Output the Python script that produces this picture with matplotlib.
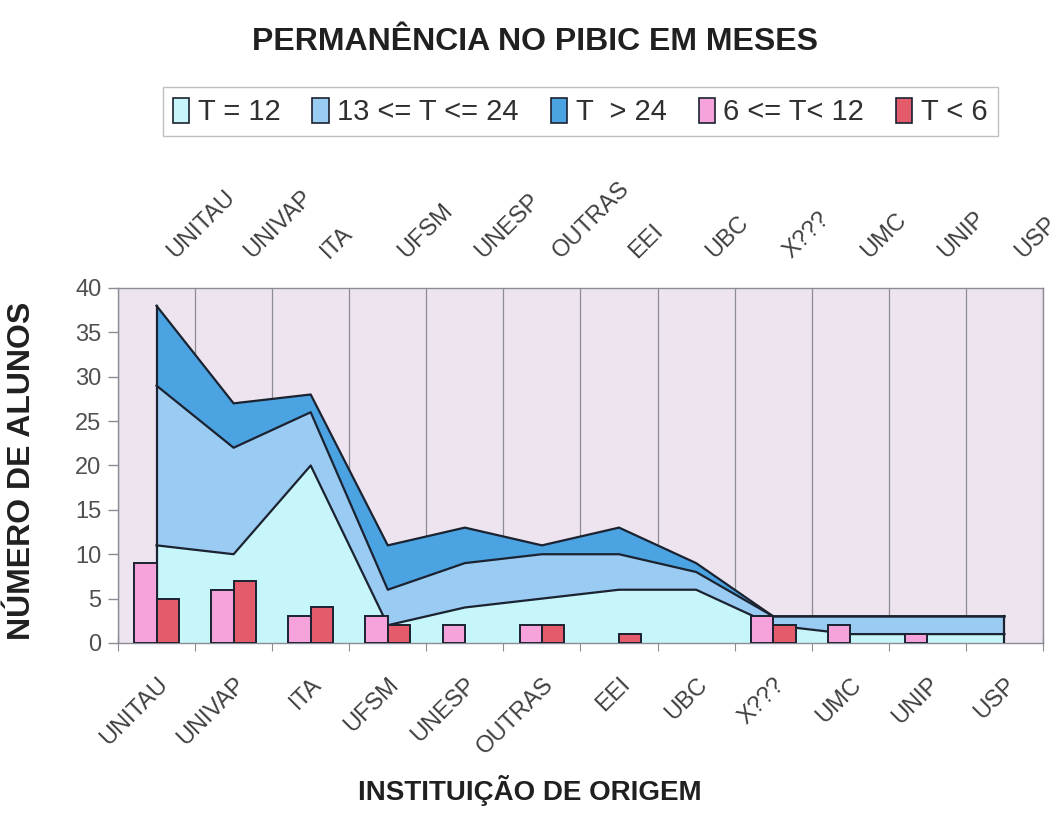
import numpy as np
import matplotlib
matplotlib.use('Agg')
import matplotlib.pyplot as plt
import matplotlib.transforms as mtransforms
from matplotlib.patches import Patch

plt.rcParams['font.family'] = ['Liberation Sans', 'DejaVu Sans']

# data
categories = ['UNITAU', 'UNIVAP', 'ITA', 'UFSM', 'UNESP', 'OUTRAS',
              'EEI', 'UBC', 'X???', 'UMC', 'UNIP', 'USP']
t_12 = [11, 10, 20, 2, 4, 5, 6, 6, 2, 1, 1, 1]
t_13_24 = [18, 12, 6, 4, 5, 5, 4, 2, 1, 2, 2, 2]
t_gt_24 = [9, 5, 2, 5, 4, 1, 3, 1, 0, 0, 0, 0]
t_6_12 = [9, 6, 3, 3, 2, 2, 0, 0, 3, 2, 1, 0]
t_lt_6 = [5, 7, 4, 2, 0, 2, 1, 0, 2, 0, 0, 0]

area_labels = ['T = 12', '13 <= T <= 24', 'T  > 24']
bar_labels = ['6 <= T< 12', 'T < 6']
area_colors = ['#C6F6FA', '#9ACBF2', '#4CA3E2']
bar_colors = ['#F6A3DC', '#E45C6C']
edge = '#1B2230'
grid_col = '#8C8C96'

fig = plt.figure(figsize=(10.59, 8.17), dpi=100)
ax = fig.add_axes([0.1114, 0.213, 0.8735, 0.4345])
ax.set_facecolor('#EEE4F0')

n = len(categories)
x = np.arange(n) + 0.5

# stacked areas
lower = np.zeros(n)
for vals, col in zip([t_12, t_13_24, t_gt_24], area_colors):
    upper = lower + np.array(vals)
    ax.fill_between(x, lower, upper, facecolor=col, edgecolor='none', zorder=2)
    lower = upper
# outlines
cum = np.zeros(n)
for vals in [t_12, t_13_24, t_gt_24]:
    cum = cum + np.array(vals)
    ax.plot(x, cum, color=edge, lw=1.6, zorder=3)
ax.plot([x[0], x[0]], [0, cum[0]], color=edge, lw=1.6, zorder=3)
ax.plot([x[-1], x[-1]], [0, cum[-1]], color=edge, lw=1.6, zorder=3)

# clustered bars (zero values are not drawn)
w = 0.29
for vals, off, col in [(t_6_12, -w / 2, bar_colors[0]), (t_lt_6, w / 2, bar_colors[1])]:
    vals = np.array(vals)
    keep = vals > 0
    ax.bar(x[keep] + off, vals[keep], width=w, color=col, edgecolor=edge, lw=1.4, zorder=4)

ax.set_xlim(0, n)
ax.set_ylim(0, 40)
ax.set_yticks(range(0, 41, 5))
ax.tick_params(axis='y', labelsize=17, colors='#505050', length=7, width=1, color=grid_col, pad=5)

# vertical gridlines at category boundaries
ax.set_xticks(np.arange(n + 1))
ax.set_xticks(x, minor=True)
ax.set_xticklabels([])
ax.set_xticklabels(categories, minor=True, rotation=45, ha='right', va='top',
                   rotation_mode='anchor', fontsize=17, color='#404040')
ax.tick_params(axis='x', which='major', direction='inout', length=12, color=grid_col, top=True)
ax.tick_params(axis='x', which='minor', length=0, pad=22)
ax.grid(axis='x', which='major', color=grid_col, lw=0.9, zorder=1)
for s in ax.spines.values():
    s.set_color(grid_col)
    s.set_linewidth(1.0)

# top axis with the same labels
ax2 = ax.twiny()
ax2.set_xlim(0, n)
ax2.set_xticks([])
ax2.set_xticks(x, minor=True)
ax2.set_xticklabels(categories, minor=True, rotation=45, ha='left', va='bottom',
                    rotation_mode='anchor', fontsize=17, color='#404040')
ax2.tick_params(axis='x', which='minor', length=0, pad=18)
shift = mtransforms.ScaledTranslation(0.22, 0, fig.dpi_scale_trans)
for lab in ax2.get_xticklabels(minor=True):
    lab.set_transform(lab.get_transform() + shift)
for s in ax2.spines.values():
    s.set_visible(False)

fig.text(0.021, 0.424, 'NÚMERO DE ALUNOS', fontsize=23, fontweight='bold',
         color='#202020', ha='center', va='center', rotation=90)
fig.text(0.5, 0.033, 'INSTITUIÇÃO DE ORIGEM', fontsize=20, fontweight='bold',
         color='#202020', ha='center', va='center')
fig.text(0.505, 0.949, 'PERMANÊNCIA NO PIBIC EM MESES', fontsize=23, fontweight='bold',
         color='#202020', ha='center', va='center')

handles = [Patch(facecolor=c, edgecolor=edge, lw=1.2) for c in area_colors + bar_colors]
leg = fig.legend(handles, area_labels + bar_labels, loc='center', bbox_to_anchor=(0.548, 0.863),
                 ncol=5, fontsize=21, frameon=True, fancybox=False, handlelength=0.55,
                 handleheight=0.95, handletextpad=0.3, columnspacing=1.1, borderpad=0.35)
leg.get_frame().set_edgecolor('#B0B0B0')
leg.get_frame().set_linewidth(1.0)
for t in leg.get_texts():
    t.set_color('#303030')

fig.savefig('out.png', dpi=100, facecolor='white')
